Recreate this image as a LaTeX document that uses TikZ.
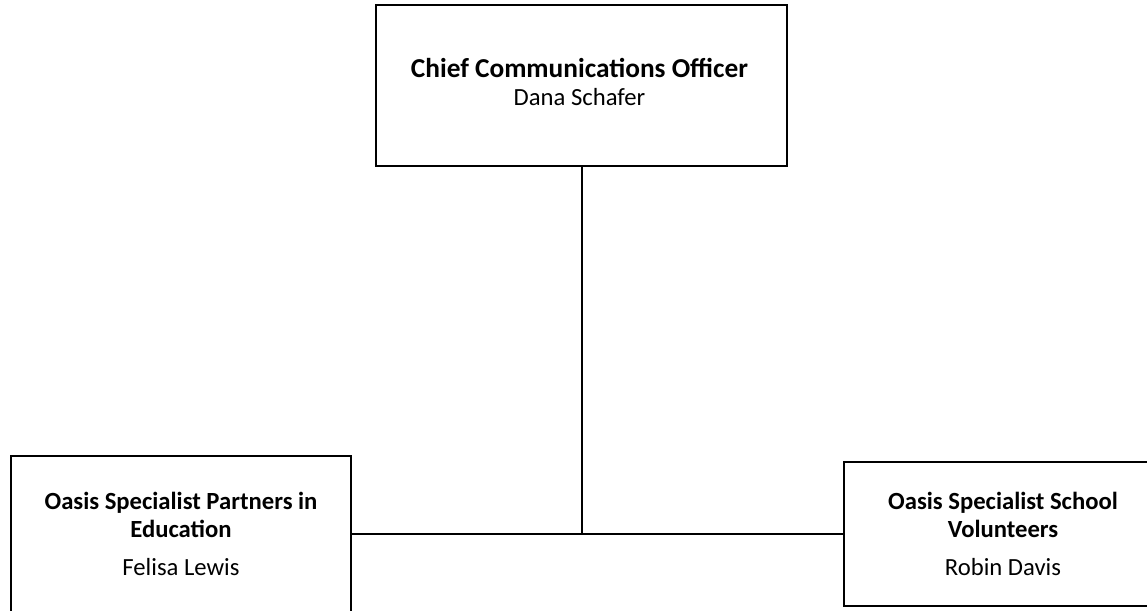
\documentclass[tikz,border=0pt]{standalone}
\usepackage{fontspec}
\setmainfont{Carlito}
\begin{document}
\begin{tikzpicture}[x=0.75pt,y=-0.75pt,
  orgbox/.style={draw=black, line width=1.5pt, rectangle, inner sep=0pt, align=center,
    font=\fontsize{18.5}{20.5}\selectfont},
  boxtext/.style={inner sep=0pt, align=center, font=\fontsize{18.5}{20.5}\selectfont},
  link/.style={draw=black, line width=1.5pt}]
\useasboundingbox (0,0) rectangle (1147,611);
\fill[white] (0,0) rectangle (1147,611);
\node[orgbox, minimum width=308.25pt, minimum height=120.75pt] (ceo) at (581.5,85.5) {};
\node[boxtext] (ceotext) at (579.5,81.5)
  {{\fontsize{20.5}{22}\selectfont\textbf{Chief Communications Officer}}\\[0.5pt]Dana Schafer};
\node[orgbox, minimum width=255pt, minimum height=117pt] (pie) at (181,534)
  {\textbf{Oasis Specialist Partners in}\\\textbf{Education}\\[8pt]Felisa Lewis};
\node[orgbox, minimum width=270pt, minimum height=108pt, anchor=west] (vol) at (843,534) {};
\node[boxtext] (voltext) at (1003,534)
  {\textbf{Oasis Specialist School}\\\textbf{Volunteers}\\[8pt]Robin Davis};
\draw[link] (pie.east) -- (vol.west);
\draw[link] (ceo.south) -- (ceo.south |- pie.east);
\end{tikzpicture}
\end{document}
